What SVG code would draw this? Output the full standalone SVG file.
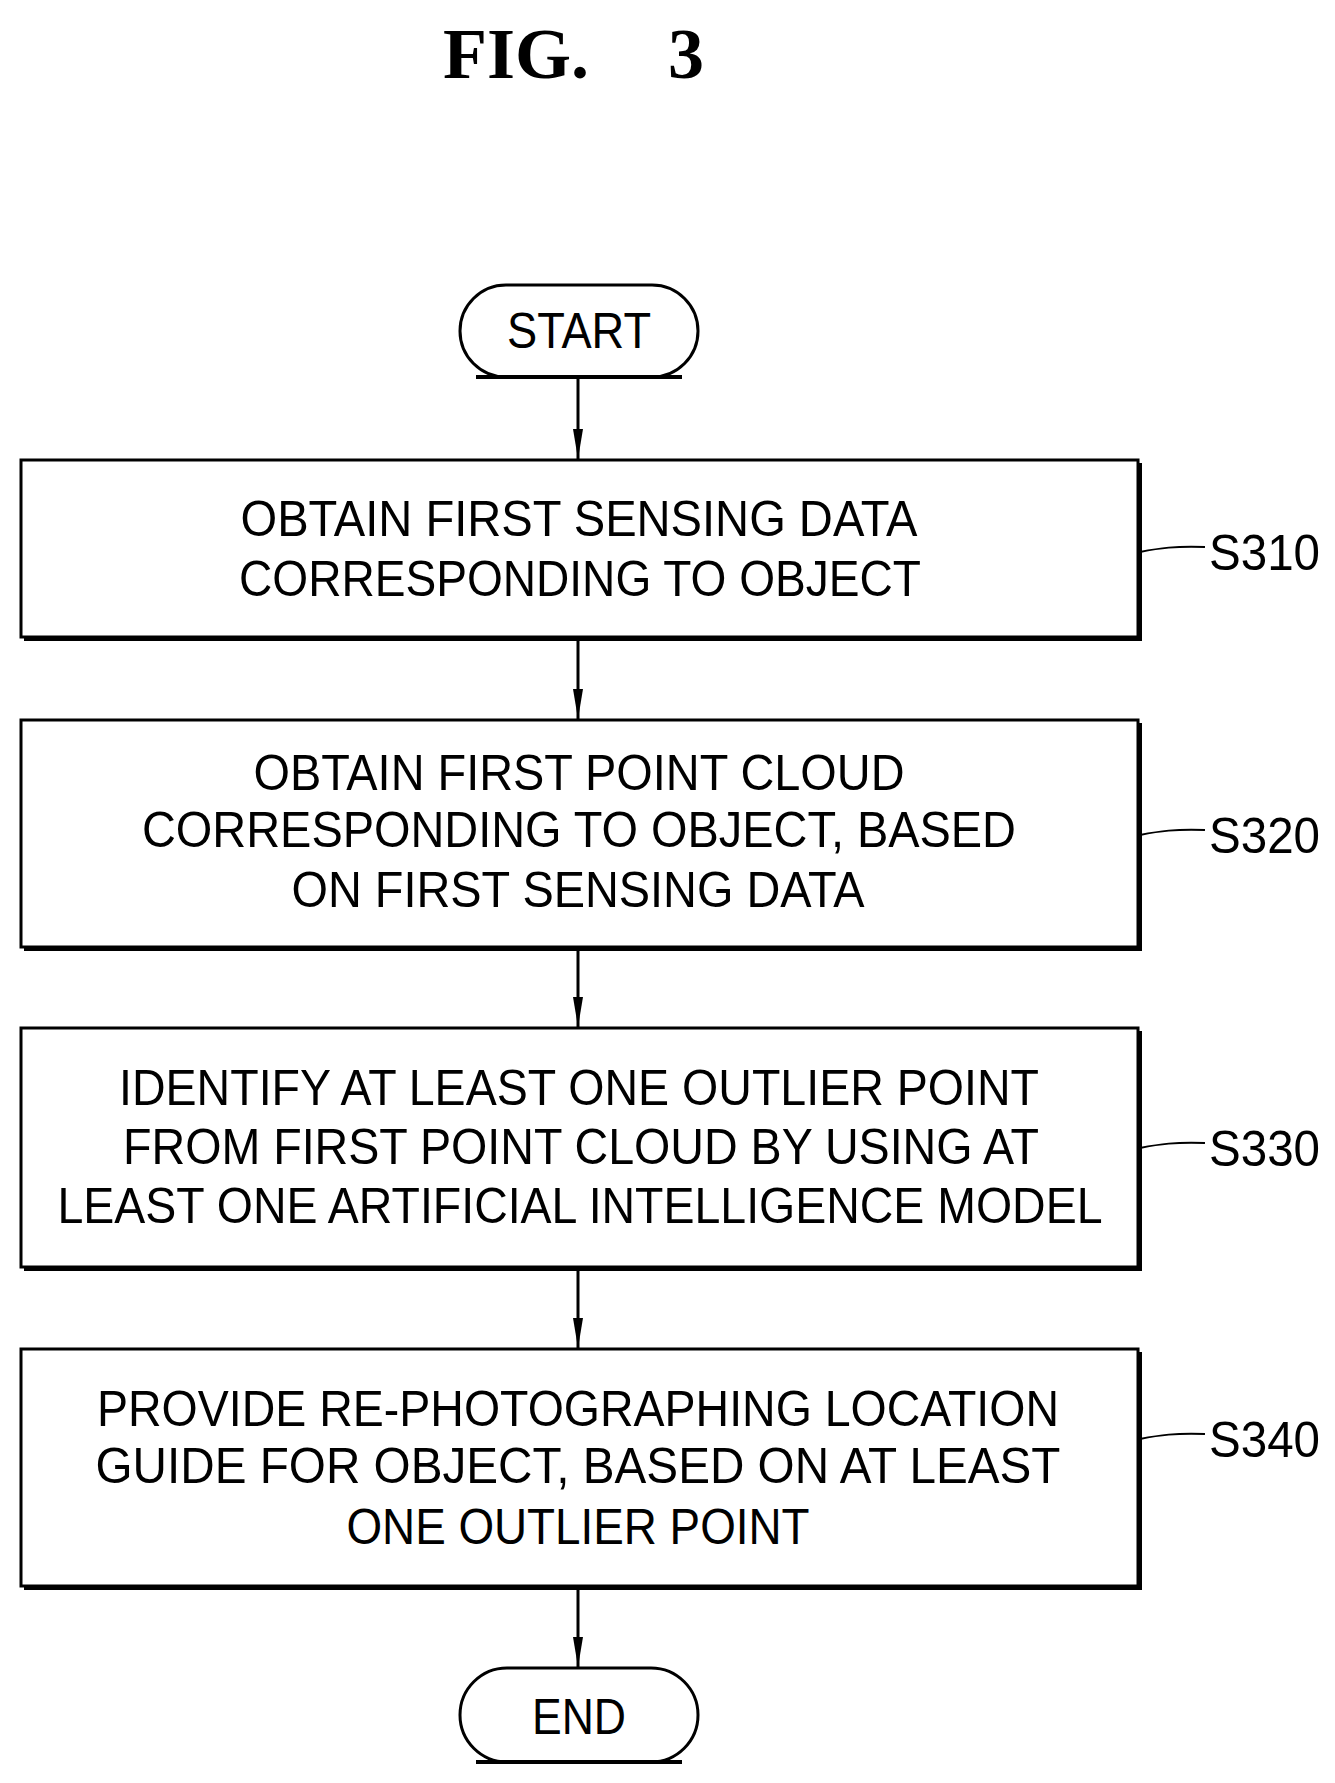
<svg xmlns="http://www.w3.org/2000/svg" width="1335" height="1783" viewBox="0 0 1335 1783">
<style>
.b{fill:#fff;stroke:#000;stroke-width:3}
.sh{fill:none;stroke:#000;stroke-width:4}
.t{font-family:"Liberation Sans",Arial,sans-serif;font-size:50px;text-anchor:middle;fill:#000}
.l{font-family:"Liberation Sans",Arial,sans-serif;font-size:50px;fill:#000}
.f{font-family:"Liberation Serif",serif;font-weight:bold;font-size:72px;fill:#000}
.c{stroke:#000;stroke-width:3;fill:none}
.ld{stroke:#000;stroke-width:2;fill:none}
</style>
<defs><marker id="a" viewBox="0 0 30 10" refX="30" refY="5" markerWidth="30" markerHeight="10" markerUnits="userSpaceOnUse" orient="auto"><path d="M0,0 L30,5 L0,10 Z" fill="#000"/></marker></defs>
<rect width="1335" height="1783" fill="#fff"/>
<text class="f" x="443" y="78">FIG.</text>
<text class="f" x="668" y="78">3</text>
<g id="connectors">
<line class="c" x1="578" y1="378" x2="578" y2="459" marker-end="url(#a)"/>
<line class="c" x1="578" y1="640" x2="578" y2="719" marker-end="url(#a)"/>
<line class="c" x1="578" y1="950" x2="578" y2="1027" marker-end="url(#a)"/>
<line class="c" x1="578" y1="1270" x2="578" y2="1348" marker-end="url(#a)"/>
<line class="c" x1="578" y1="1589" x2="578" y2="1667" marker-end="url(#a)"/>
</g>
<g id="start"><rect class="b" x="460" y="285" width="238" height="92" rx="46"/><path class="sh" d="M476,377 H682"/><text class="t" x="579" y="348" textLength="144" lengthAdjust="spacingAndGlyphs">START</text></g>
<g id="s310"><rect class="b" x="21" y="460" width="1117" height="177"/><path class="sh" d="M24,639 H1140 V463"/>
<text class="t" x="579" y="536" textLength="677" lengthAdjust="spacingAndGlyphs">OBTAIN FIRST SENSING DATA</text>
<text class="t" x="580" y="596" textLength="682" lengthAdjust="spacingAndGlyphs">CORRESPONDING TO OBJECT</text>
<path class="ld" d="M1140,552 C1160,548 1175,546 1205,547"/><text class="l" x="1209" y="570" textLength="111" lengthAdjust="spacingAndGlyphs">S310</text></g>
<g id="s320"><rect class="b" x="21" y="720" width="1117" height="227"/><path class="sh" d="M24,949 H1140 V723"/>
<text class="t" x="579" y="790" textLength="651" lengthAdjust="spacingAndGlyphs">OBTAIN FIRST POINT CLOUD</text>
<text class="t" x="579" y="847" textLength="874" lengthAdjust="spacingAndGlyphs">CORRESPONDING TO OBJECT, BASED</text>
<text class="t" x="578" y="907" textLength="573" lengthAdjust="spacingAndGlyphs">ON FIRST SENSING DATA</text>
<path class="ld" d="M1140,835 C1160,831 1175,829 1205,830"/><text class="l" x="1209" y="853" textLength="111" lengthAdjust="spacingAndGlyphs">S320</text></g>
<g id="s330"><rect class="b" x="21" y="1028" width="1117" height="239"/><path class="sh" d="M24,1269 H1140 V1031"/>
<text class="t" x="579" y="1105" textLength="920" lengthAdjust="spacingAndGlyphs">IDENTIFY AT LEAST ONE OUTLIER POINT</text>
<text class="t" x="581" y="1164" textLength="916" lengthAdjust="spacingAndGlyphs">FROM FIRST POINT CLOUD BY USING AT</text>
<text class="t" x="580" y="1223" textLength="1045" lengthAdjust="spacingAndGlyphs">LEAST ONE ARTIFICIAL INTELLIGENCE MODEL</text>
<path class="ld" d="M1140,1148 C1160,1144 1175,1142 1205,1143"/><text class="l" x="1209" y="1166" textLength="111" lengthAdjust="spacingAndGlyphs">S330</text></g>
<g id="s340"><rect class="b" x="21" y="1349" width="1117" height="237"/><path class="sh" d="M24,1588 H1140 V1352"/>
<text class="t" x="578" y="1426" textLength="962" lengthAdjust="spacingAndGlyphs">PROVIDE RE-PHOTOGRAPHING LOCATION</text>
<text class="t" x="578" y="1483" textLength="965" lengthAdjust="spacingAndGlyphs">GUIDE FOR OBJECT, BASED ON AT LEAST</text>
<text class="t" x="578" y="1544" textLength="463" lengthAdjust="spacingAndGlyphs">ONE OUTLIER POINT</text>
<path class="ld" d="M1140,1439 C1160,1435 1175,1433 1205,1434"/><text class="l" x="1209" y="1457" textLength="111" lengthAdjust="spacingAndGlyphs">S340</text></g>
<g id="end"><rect class="b" x="460" y="1668" width="238" height="94" rx="47"/><path class="sh" d="M476,1762 H682"/><text class="t" x="579" y="1734" textLength="94" lengthAdjust="spacingAndGlyphs">END</text></g>
</svg>
